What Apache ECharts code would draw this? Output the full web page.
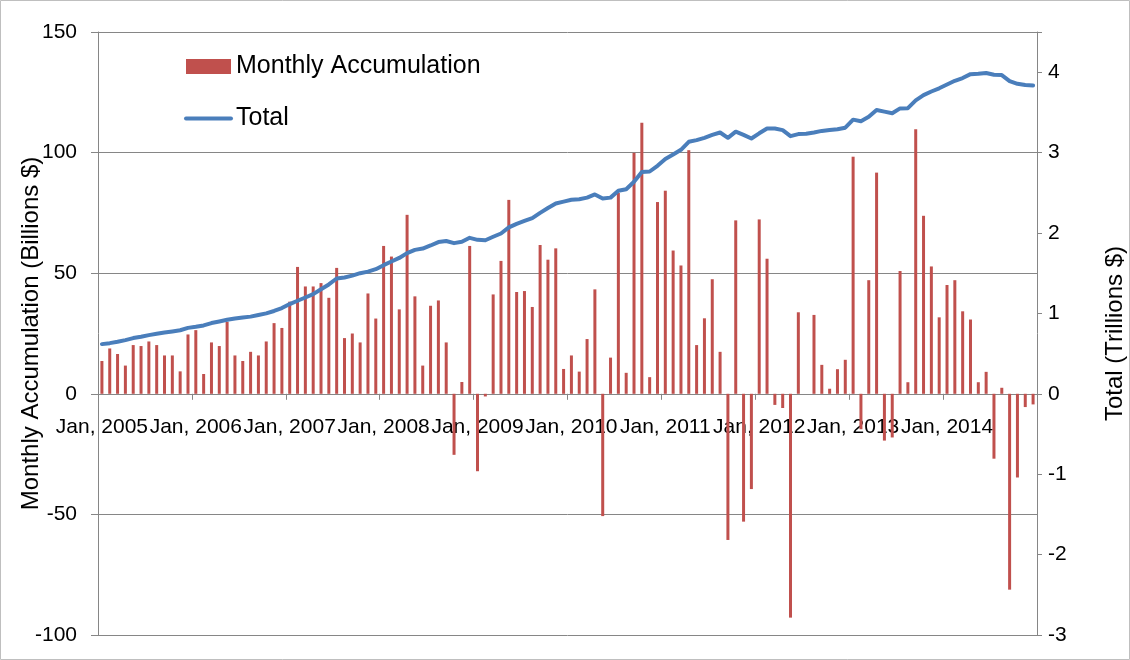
<!DOCTYPE html>
<html>
<head>
<meta charset="utf-8">
<script src="https://cdn.jsdelivr.net/npm/echarts@6/dist/echarts.min.js"></script>
<style>
  html, body { margin: 0; padding: 0; background: #fff; }
  #chart { width: 1130px; height: 660px; }
</style>
</head>
<body>
<div id="chart"></div>
<script>
const years = [2005, 2006, 2007, 2008, 2009, 2010, 2011, 2012, 2013, 2014]
const months = ['Jan', 'Feb', 'Mar', 'Apr', 'May', 'Jun', 'Jul', 'Aug', 'Sep', 'Oct', 'Nov', 'Dec']
const categories = years.flatMap(y => months.map(m => m + ', ' + y))

// monthly accumulation, billions $
const monthly = [
  13.6, 18.8, 16.5, 11.7, 20.2, 19.8, 21.7, 20.2, 15.9, 15.9, 9.3, 24.6,
  26.4, 8.2, 21.3, 19.8, 29.9, 15.9, 13.6, 17.4, 15.9, 21.7, 29.3, 27.3,
  38.2, 52.6, 44.5, 44.5, 45.9, 39.8, 52.2, 23.1, 25.0, 21.3, 41.6, 31.2,
  61.3, 56.9, 35.0, 74.2, 40.4, 11.7, 36.5, 38.7, 21.3, -25.3, 4.9, 61.3,
  -32.1, -1.1, 41.2, 55.1, 80.4, 42.2, 42.6, 36.0, 61.7, 55.6, 60.3, 10.3,
  15.9, 9.2, 22.7, 43.3, -50.7, 15.0, 83.3, 8.7, 99.9, 112.4, 6.9, 79.5,
  84.2, 59.4, 53.2, 101.0, 20.2, 31.3, 47.5, 17.4, -60.6, 71.9, -53.0, -39.5,
  72.3, 56.0, -4.6, -5.9, -92.8, 33.8, 0, 32.7, 12.0, 2.1, 10.2, 14.1,
  98.3, -14.7, 47.1, 91.7, -19.4, -18.1, 50.9, 4.8, 109.7, 73.8, 52.8, 31.7,
  45.1, 47.1, 34.2, 30.8, 4.8, 9.1, -26.9, 2.5, -81.2, -34.7, -5.5, -4.4
]

// total, trillions $
const total = [
  0.618, 0.63, 0.647, 0.668, 0.693, 0.709, 0.73, 0.746, 0.762, 0.775, 0.79, 0.82,
  0.833, 0.85, 0.88, 0.90, 0.92, 0.937, 0.95, 0.96, 0.98, 1.00, 1.03, 1.066,
  1.116, 1.157, 1.198, 1.24, 1.30, 1.36, 1.434, 1.447, 1.47, 1.50, 1.52, 1.55,
  1.60, 1.645, 1.69, 1.75, 1.79, 1.807, 1.845, 1.887, 1.90, 1.874, 1.89, 1.94,
  1.915, 1.91, 1.953, 1.994, 2.07, 2.114, 2.15, 2.185, 2.25, 2.31, 2.367, 2.39,
  2.413, 2.42, 2.44, 2.48, 2.43, 2.44, 2.525, 2.545, 2.637, 2.76, 2.765, 2.836,
  2.92, 2.976, 3.035, 3.134, 3.155, 3.184, 3.22, 3.25, 3.184, 3.26, 3.22, 3.175,
  3.24, 3.30, 3.30, 3.28, 3.205, 3.23, 3.234, 3.25, 3.27, 3.28, 3.29, 3.31,
  3.41, 3.39, 3.445, 3.53, 3.51, 3.49, 3.55, 3.553, 3.65, 3.715, 3.76, 3.80,
  3.847, 3.893, 3.927, 3.976, 3.98, 3.99, 3.968, 3.964, 3.89, 3.856, 3.84, 3.835
]

// axis ranges
const leftMin = -100
const leftMax = 150
const rightMin = -3
const rightMax = 4.5

const font = 'Liberation Sans'
const gray = '#868686'

const grid = { left: 98, right: 93, top: 32, bottom: 25 }
const plotHeight = 660 - grid.top - grid.bottom
// category axis sits on the zero line of the left axis
const zeroOffset = -plotHeight * (0 - leftMin) / (leftMax - leftMin)

const chart = echarts.init(document.getElementById('chart'))

const option = {
  animation: false,
  textStyle: { fontFamily: font, color: '#000' },
  graphic: [
    {
      type: 'rect',
      shape: { x: 0.5, y: 0.5, width: 1129, height: 659 },
      style: { fill: 'none', stroke: '#bfbfbf', lineWidth: 1 }
    }
  ],
  grid: { ...grid, containLabel: false, outerBoundsMode: 'none' },
  legend: {
    left: 179,
    top: 49,
    orient: 'vertical',
    itemWidth: 45,
    itemHeight: 15,
    itemGap: 27,
    textStyle: { fontFamily: font, fontSize: 25, color: '#000' },
    data: [
      { name: 'Monthly Accumulation', icon: 'rect' },
      { name: 'Total', itemStyle: { opacity: 0 }, lineStyle: { width: 4 } }
    ]
  },
  xAxis: {
    type: 'category',
    data: categories,
    boundaryGap: true,
    offset: zeroOffset,
    axisLine: { onZero: false, lineStyle: { color: gray, width: 1 } },
    axisTick: { show: true, interval: 11, length: 6, lineStyle: { color: gray } },
    axisLabel: {
      interval: 11,
      margin: 23,
      fontSize: 21,
      fontFamily: font,
      color: '#000',
      hideOverlap: false
    },
    splitLine: { show: false }
  },
  yAxis: [
    {
      type: 'value',
      min: leftMin,
      max: leftMax,
      interval: 50,
      name: 'Monthly Accumulation (Billions $)',
      nameLocation: 'middle',
      nameGap: 55,
      nameMoveOverlap: false,
      nameTextStyle: { fontSize: 24, fontFamily: font, color: '#000' },
      axisLine: { show: true, lineStyle: { color: gray } },
      axisTick: { show: true, length: 7, lineStyle: { color: gray } },
      axisLabel: { fontSize: 21, fontFamily: font, color: '#000', margin: 21 },
      splitLine: { show: true, lineStyle: { color: gray, width: 1 } }
    },
    {
      type: 'value',
      min: rightMin,
      max: rightMax,
      interval: 1,
      position: 'right',
      name: 'Total (Trillions $)',
      nameLocation: 'middle',
      nameGap: 66,
      nameMoveOverlap: false,
      nameTextStyle: { fontSize: 24, fontFamily: font, color: '#000' },
      axisLine: { show: true, lineStyle: { color: gray } },
      axisTick: { show: true, length: 5, lineStyle: { color: gray } },
      axisLabel: {
        fontSize: 21,
        fontFamily: font,
        color: '#000',
        margin: 11,
        formatter: v => (v === rightMax ? '' : v)
      },
      splitLine: { show: false }
    }
  ],
  series: [
    {
      name: 'Monthly Accumulation',
      type: 'bar',
      yAxisIndex: 0,
      barWidth: 3,
      itemStyle: { color: '#C0504D' },
      data: monthly
    },
    {
      name: 'Total',
      type: 'line',
      yAxisIndex: 1,
      symbol: 'none',
      smooth: false,
      itemStyle: { color: '#4A7EBB' },
      lineStyle: { color: '#4A7EBB', width: 4, cap: 'round', join: 'round' },
      data: total,
      z: 3
    }
  ]
}

chart.setOption(option)
</script>
</body>
</html>
